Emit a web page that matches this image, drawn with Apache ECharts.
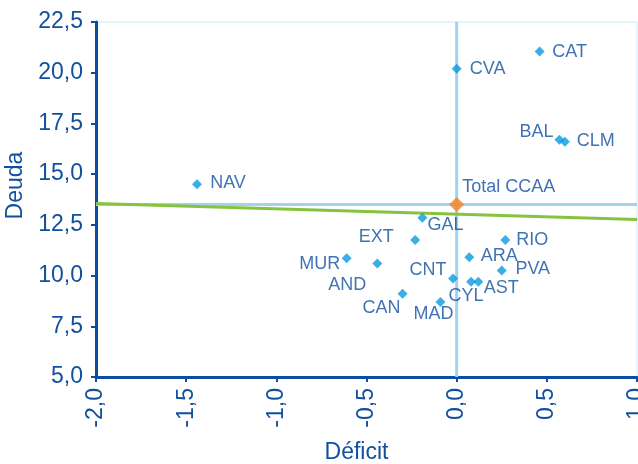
<!DOCTYPE html>
<html>
<head>
<meta charset="utf-8">
<script src="https://cdn.jsdelivr.net/npm/echarts@6/dist/echarts.min.js"></script>
<style>html,body{margin:0;padding:0;background:#fff;}#c{width:638px;height:464px;}</style>
</head>
<body>
<div id="c"></div>
<script>
var regions = ['CAT','CVA','BAL','CLM','NAV','GAL','EXT','RIO','MUR','AND','ARA','PVA','CNT','CYL','AST','CAN','MAD'];
var deficit = [0.46, 0.0, 0.57, 0.60, -1.44, -0.19, -0.23, 0.27, -0.61, -0.44, 0.07, 0.25, -0.02, 0.08, 0.12, -0.30, -0.09];
var deuda   = [21.05, 20.2, 16.7, 16.6, 14.5, 12.85, 11.75, 11.75, 10.85, 10.6, 10.9, 10.25, 9.85, 9.7, 9.7, 9.1, 8.7];
var totalName = 'Total CCAA';
var totalPoint = [0.0, 13.5];
var trendX = [-2.0, 1.0];
var trendY = [13.55, 12.77];

var txt = '#1150a0';
// label centre offsets relative to marker (style only)
var labelOff = {
  CAT:[30,1], CVA:[31,0], BAL:[-23,-8], CLM:[31,-1], NAV:[31,-1],
  GAL:[23,7], EXT:[-39,-3], RIO:[27,0], MUR:[-27,6], AND:[-30,22],
  ARA:[30,-1], PVA:[31,-1], CNT:[-25,-9], CYL:[-5,14], AST:[23,6],
  CAN:[-21,14], MAD:[-7,12]
};

var pts = regions.map(function(n,i){
  return {name:n, value:[deficit[i], deuda[i]], label:{position:'inside', offset:labelOff[n]}};
});

var fmt = function(v){ return v.toFixed(1).replace('.', ','); };

var chart = echarts.init(document.getElementById('c'));
chart.setOption({
  animation:false,
  textStyle:{fontFamily:'Liberation Sans, Arial, sans-serif'},
  grid:{left:96, right:1, top:22, bottom:87, show:true, borderColor:'#cdeaf8', borderWidth:1, outerBoundsMode:'none', containLabel:false},
  xAxis:{
    type:'value', min:-2, max:1, interval:0.5,
    name:'Déficit', nameLocation:'middle', nameGap:64,
    nameTextStyle:{color:txt, fontSize:23, padding:[0,20,0,0]},
    axisLine:{show:true, onZero:false, lineStyle:{color:'#0a4da2', width:3}},
    axisTick:{show:true, length:5, lineStyle:{color:'#0a4da2', width:2}},
    axisLabel:{rotate:90, color:txt, fontSize:23, margin:11, formatter:fmt},
    splitLine:{show:false}
  },
  yAxis:{
    type:'value', min:5, max:22.5, interval:2.5,
    name:'Deuda', nameLocation:'middle', nameGap:66,
    nameTextStyle:{color:txt, fontSize:23, padding:[0,0,0,28]},
    axisLine:{show:true, onZero:false, lineStyle:{color:'#0a4da2', width:3}},
    axisTick:{show:true, length:5, lineStyle:{color:'#0a4da2', width:2}},
    axisLabel:{color:txt, fontSize:23, margin:13, formatter:fmt},
    splitLine:{show:false}
  },
  series:[
    {
      type:'line', data:[[totalPoint[0], 5],[totalPoint[0], 22.5]], symbol:'none', silent:true,
      lineStyle:{color:'#9fd4f1', width:3}, z:1
    },
    {
      type:'line', data:[[-2, totalPoint[1]],[1, totalPoint[1]]], symbol:'none', silent:true,
      lineStyle:{color:'#9fd4f1', width:3}, z:1
    },
    {
      type:'line', data:[[trendX[0], trendY[0]],[trendX[1], trendY[1]]], symbol:'none', silent:true,
      lineStyle:{color:'#86c43e', width:3}, z:2
    },
    {
      type:'scatter', data:pts, symbol:'diamond', symbolSize:10,
      itemStyle:{color:'#0a9ade'}, z:3,
      label:{show:true, formatter:'{b}', color:txt, fontSize:18}
    },
    {
      type:'scatter', data:[{name:totalName, value:totalPoint}], symbol:'diamond', symbolSize:15,
      itemStyle:{color:'#f5831f'}, z:4,
      label:{show:true, formatter:'{b}', color:txt, fontSize:18, position:'inside', offset:[52,-18]}
    }
  ]
});
</script>
</body>
</html>
